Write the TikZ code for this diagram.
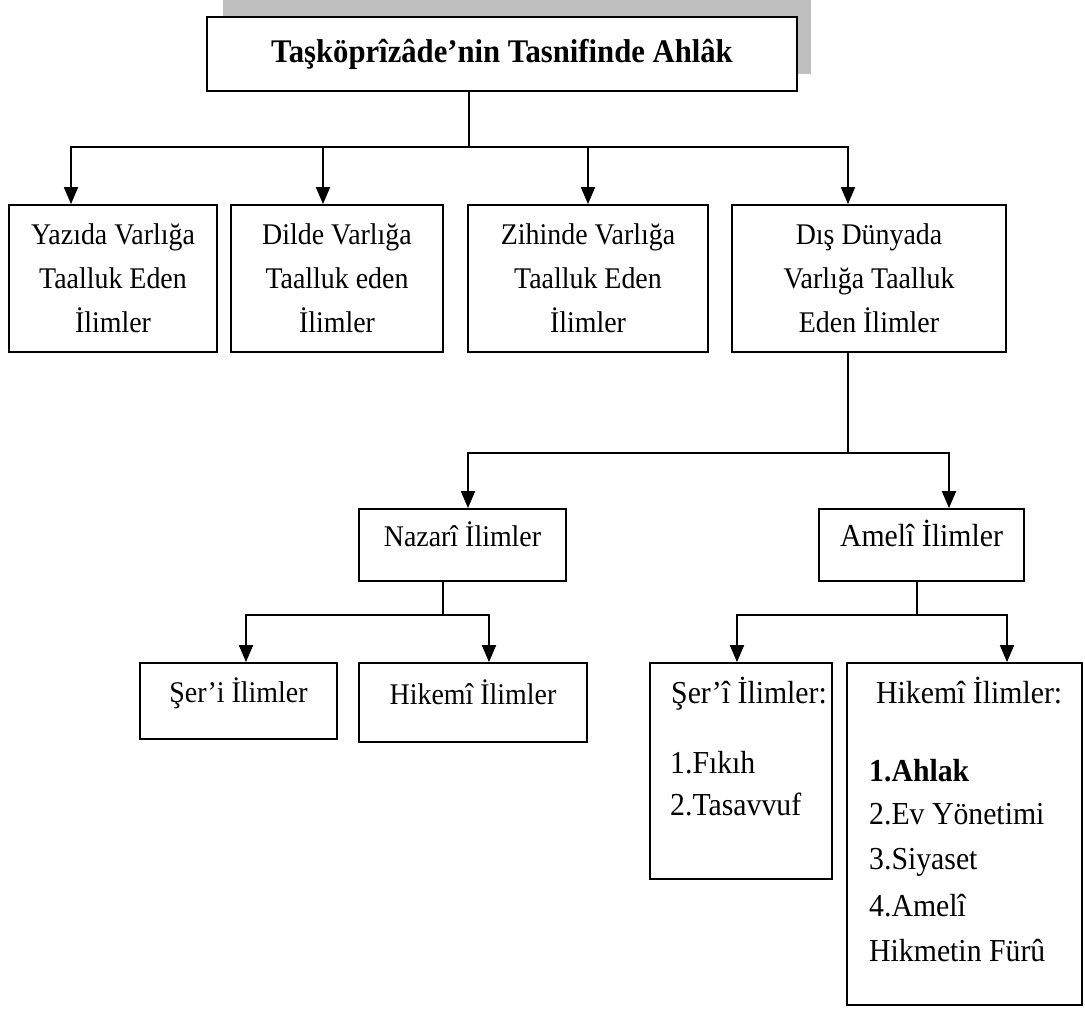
\documentclass[tikz,border=0pt]{standalone}
\usepackage{fontspec}
\setmainfont{Liberation Serif}[FakeStretch=0.93]
\usetikzlibrary{arrows.meta}
\begin{document}
\begin{tikzpicture}[x=1pt,y=-1pt,
  box/.style={draw, line width=1.8pt, rectangle, inner sep=0pt, align=center,
    fill=white, font=\fontsize{30}{44}\selectfont},
  onebox/.style={box, text height=0.7em, text depth=0.4em},
  txt/.style={inner sep=0pt, anchor=base west, font=\fontsize{32}{44}\selectfont},
  conn/.style={line width=1.8pt},
  arr/.style={conn, -{Triangle[width=14pt,length=17pt]}},
]
\useasboundingbox[fill=white] (0,0) rectangle (1085,1010);

% title with offset grey shadow
\fill[black!25] (223,0) rectangle (811,74);
\node[box, minimum width=590pt, minimum height=74pt,
  font=\fontsize{33}{36}\selectfont\bfseries] (top) at (502,54)
  {Taşköprîzâde’nin Tasnifinde Ahlâk};

% second level
\node[box, minimum width=208pt, minimum height=147pt] (b1) at (113,278.5)
  {Yazıda Varlığa\\Taalluk Eden\\İlimler};
\node[box, minimum width=212pt, minimum height=147pt] (b2) at (337,278.5)
  {Dilde Varlığa\\Taalluk eden\\İlimler};
\node[box, minimum width=240pt, minimum height=147pt] (b3) at (588,278.5)
  {Zihinde Varlığa\\Taalluk Eden\\İlimler};
\node[box, minimum width=274pt, minimum height=147pt] (b4) at (869,278.5)
  {Dış Dünyada\\Varlığa Taalluk\\Eden İlimler};

% third level
\node[onebox, minimum width=207pt, minimum height=72pt] (naz) at (462.5,545)
  {Nazarî İlimler};
\node[onebox, minimum width=205pt, minimum height=72pt,
  font=\fontsize{32}{44}\selectfont] (ame) at (921.5,545)
  {Amelî İlimler};

% fourth level, theoretical branch
\node[onebox, minimum width=197pt, minimum height=76pt] (ns) at (238.5,701)
  {Şer’i İlimler};
\node[onebox, minimum width=228pt, minimum height=79pt] (nh) at (473,702.5)
  {Hikemî İlimler};

% fourth level, practical branch
\node[box, minimum width=182pt, minimum height=216pt] (as) at (741,771) {};
\node[txt] (as1) at (671,703) {Şer’î İlimler:};
\node[txt] (as2) at (670,773) {1.Fıkıh};
\node[txt] (as3) at (670,815) {2.Tasavvuf};

\node[box, minimum width=235pt, minimum height=342pt] (ah) at (964.5,834) {};
\node[txt] (ah1) at (876,703) {Hikemî İlimler:};
\node[txt, font=\fontsize{32}{44}\selectfont\bfseries] (ah2) at (869,781) {1.Ahlak};
\node[txt] (ah3) at (869,824) {2.Ev Yönetimi};
\node[txt] (ah4) at (869,869) {3.Siyaset};
\node[txt] (ah5) at (869,916) {4.Amelî};
\node[txt] (ah6) at (869,961) {Hikmetin Fürû};

% connectors
\coordinate (j1) at (469,147);
\draw[conn] (469,0 |- top.south) -- (j1);
\draw[arr] (j1) -| (71,0 |- b1.north);
\draw[arr] (j1) -| (323,0 |- b2.north);
\draw[arr] (j1) -| (588,0 |- b3.north);
\draw[arr] (j1) -| (848,0 |- b4.north);

\coordinate (j2) at (848,453);
\draw[conn] (848,0 |- b4.south) -- (j2);
\draw[arr] (j2) -| (468,0 |- naz.north);
\draw[arr] (j2) -| (949,0 |- ame.north);

\coordinate (j3) at (443,615);
\draw[conn] (443,0 |- naz.south) -- (j3);
\draw[arr] (j3) -| (246,0 |- ns.north);
\draw[arr] (j3) -| (489,0 |- nh.north);

\coordinate (j4) at (917,615);
\draw[conn] (917,0 |- ame.south) -- (j4);
\draw[arr] (j4) -| (737,0 |- as.north);
\draw[arr] (j4) -| (1007,0 |- ah.north);
\end{tikzpicture}
\end{document}
